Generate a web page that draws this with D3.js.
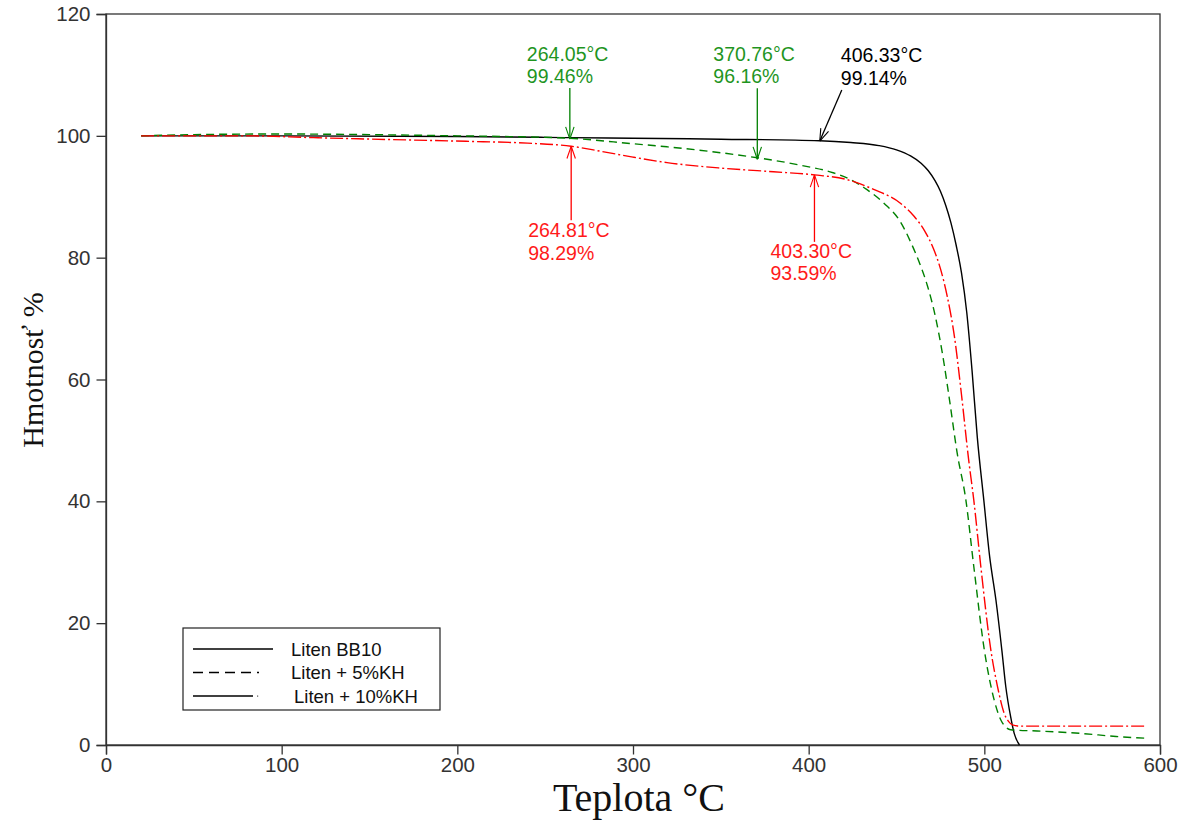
<!DOCTYPE html><html>
<head>
    <meta charset="utf-8">
    <script src="https://cdn.jsdelivr.net/npm/d3@7"></script>
    <style>
        body { margin: 0; background: #fff; }
        text { font-family: "Liberation Sans", Arial, sans-serif; }
    </style>
</head>
<body>
<script>
    // TGA curves: temperature (°C) and mass (%)
    var tBB10 = [20, 100, 200, 250, 264, 300, 350, 406.33, 424, 440, 450, 458, 464, 468, 472, 475, 478, 481, 484, 487, 490, 493, 496, 499.7, 503, 506.6, 510, 512.2, 515, 517, 520];
    var mBB10 = [100, 100, 99.9, 99.75, 99.7, 99.6, 99.45, 99.2, 98.9, 98.4, 97.7, 96.7, 95.5, 94.3, 92.6, 90.9, 88.6, 85.7, 82, 77.5, 71, 61.5, 50.5, 40.2, 31, 23.8, 15.5, 9.6, 4.6, 1.9, 0];

    var tKH5 = [20, 50, 100, 150, 200, 224.5, 264.05, 300, 319.4, 345, 370.76, 395, 414.4, 424, 433, 443, 452, 458, 463, 467.6, 472, 476, 480, 484.5, 489.5, 494, 500, 505.6, 509.4, 512, 515, 530, 555, 575, 593];
    var mKH5 = [100, 100.2, 100.3, 100.2, 100, 99.9, 99.6, 98.7, 98.2, 97.4, 96.4, 95.2, 93.9, 92.8, 91.2, 88.9, 86, 82.6, 79.2, 75.4, 70.5, 64.5, 57, 48, 40.2, 29.3, 15.6, 7.4, 4.1, 3, 2.5, 2.3, 1.9, 1.4, 1.1];

    var tKH10 = [20, 80, 118, 160, 205, 240, 264.81, 281, 300, 319.4, 350, 380, 403.3, 422, 437, 452.4, 460, 466, 471, 475, 479, 483, 487, 491, 494, 498, 503.7, 507.5, 511.3, 514, 516, 520, 560, 591];
    var mKH10 = [100, 100, 99.7, 99.4, 99.1, 98.8, 98.29, 97.5, 96.5, 95.6, 94.7, 94.1, 93.59, 92.8, 91.2, 88.9, 86.8, 84.4, 81.5, 78.2, 73.5, 67, 57.5, 47, 40.2, 29.3, 15.6, 9.6, 5.2, 3.8, 3.3, 3.1, 3.1, 3.1];

    var seriesNames = ["Liten BB10", "Liten + 5%KH", "Liten + 10%KH"];
    var xTicks = [0, 100, 200, 300, 400, 500, 600];
    var yTicks = [0, 20, 40, 60, 80, 100, 120];

    // marked points: temperature, mass, which series
    var markT = [264.05, 370.76, 406.33, 264.81, 403.30];
    var markM = [99.46, 96.16, 99.14, 98.29, 93.59];
    var markSeries = [1, 1, 0, 2, 2];

    var width = 1187, height = 820;
    var x0 = 106, x1 = 1160, y0 = 745, y1 = 14;

    var x = d3.scaleLinear().domain([0, 600]).range([x0, x1]);
    var y = d3.scaleLinear().domain([0, 120]).range([y0, y1]);

    var colors = ["#000000", "#008000", "#ff0000"];
    var textColors = ["#000000", "#1f951f", "#ff1a1a"];
    var dashes = [null, "8,5", "13,3,2,3"];

    var svg = d3.select("body").append("svg")
        .attr("width", width)
        .attr("height", height);

    // frame
    svg.append("rect")
        .attr("x", x0).attr("y", y1)
        .attr("width", x1 - x0).attr("height", y0 - y1)
        .attr("fill", "none").attr("stroke", "#333").attr("stroke-width", 1.3);

    // axes with minor ticks
    var xAxis = svg.append("g").attr("transform", "translate(0," + y0 + ")");
    xAxis.call(d3.axisBottom(x).tickValues(d3.range(0, 601, 25)).tickSize(6.5).tickFormat(""));
    xAxis.call(d3.axisBottom(x).tickValues(xTicks).tickSize(9.5).tickPadding(3).tickFormat(d3.format("d")));
    var yAxis = svg.append("g").attr("transform", "translate(" + x0 + ",0)");
    yAxis.call(d3.axisLeft(y).tickValues(d3.range(0, 121, 5)).tickSize(6.5).tickFormat(""));
    yAxis.call(d3.axisLeft(y).tickValues(yTicks).tickSize(9.5).tickPadding(6).tickFormat(d3.format("d")));

    svg.selectAll(".domain").attr("stroke", "#333").attr("stroke-width", 1.3);
    svg.selectAll(".tick line").attr("stroke", "#333").attr("stroke-width", 1.3);
    svg.selectAll(".tick text")
        .attr("fill", "#333")
        .style("font-size", "20.5px")
        .style("font-family", "'Liberation Sans', Arial, sans-serif");

    // curves
    var series = [
        d3.zip(tBB10, mBB10),
        d3.zip(tKH5, mKH5),
        d3.zip(tKH10, mKH10)
    ];
    var line = d3.line()
        .x(function(d) { return x(d[0]); })
        .y(function(d) { return y(d[1]); })
        .curve(d3.curveMonotoneX);

    series.forEach(function(s, i) {
        svg.append("path")
            .datum(s)
            .attr("d", line)
            .attr("fill", "none")
            .attr("stroke", colors[i])
            .attr("stroke-width", 1.4)
            .attr("stroke-dasharray", dashes[i]);
    });

    // annotations: arrow tail offset and text placement (px)
    var arrowTail = [[0, -51], [0, -71], [22, -51], [0, 74], [0, 67]];
    var labelPos = [[-43, -78, -56], [-44, -98, -76], [21, -79, -56], [-43, 91, 114], [-44, 83, 105]];

    function arrow(g, tx, ty, hx, hy, col) {
        g.append("line")
            .attr("x1", tx).attr("y1", ty).attr("x2", hx).attr("y2", hy)
            .attr("stroke", col).attr("stroke-width", 1.3);
        var ang = Math.atan2(ty - hy, tx - hx);
        [-0.33, 0.33].forEach(function(a) {
            g.append("line")
                .attr("x1", hx).attr("y1", hy)
                .attr("x2", hx + 13 * Math.cos(ang + a))
                .attr("y2", hy + 13 * Math.sin(ang + a))
                .attr("stroke", col).attr("stroke-width", 1.1);
        });
    }

    var ann = svg.append("g");
    markT.forEach(function(t, i) {
        var px = x(t), py = y(markM[i]);
        var s = markSeries[i];
        arrow(ann, px + arrowTail[i][0], py + arrowTail[i][1], px, py, colors[s]);
        var lp = labelPos[i];
        ann.append("text")
            .attr("x", px + lp[0]).attr("y", py + lp[1])
            .attr("fill", textColors[s])
            .style("font-size", "19.5px")
            .text(d3.format(".2f")(t) + "°C");
        ann.append("text")
            .attr("x", px + lp[0]).attr("y", py + lp[2])
            .attr("fill", textColors[s])
            .style("font-size", "19.5px")
            .text(d3.format(".2f")(markM[i]) + "%");
    });

    // legend (black sample lines)
    var lg = svg.append("g").attr("transform", "translate(183,628)");
    lg.append("rect")
        .attr("width", 257).attr("height", 82)
        .attr("fill", "#fff").attr("stroke", "#222").attr("stroke-width", 1.2);
    var legendLen = [80, 66, 60];
    var legendTextX = [108, 108, 111];
    seriesNames.forEach(function(name, i) {
        var ly = 21 + i * 23.5;
        lg.append("line")
            .attr("x1", 10).attr("x2", 10 + legendLen[i])
            .attr("y1", ly).attr("y2", ly)
            .attr("stroke", "#000").attr("stroke-width", 1.3)
            .attr("stroke-dasharray", i === 1 ? "10,6" : null);
        if (i === 2) {
            lg.append("rect")
                .attr("x", 74).attr("y", ly - 0.5)
                .attr("width", 1.2).attr("height", 1.2)
                .attr("fill", "#555");
        }
        lg.append("text")
            .attr("x", legendTextX[i]).attr("y", ly + 6.5)
            .attr("fill", "#111")
            .style("font-size", "18.5px")
            .text(name);
    });

    // axis titles
    svg.append("text")
        .attr("x", 639).attr("y", 811)
        .attr("text-anchor", "middle")
        .style("font-family", "'Liberation Serif', 'Times New Roman', serif")
        .style("font-size", "40px")
        .attr("fill", "#111")
        .text("Teplota °C");

    svg.append("text")
        .attr("transform", "translate(43,370) rotate(-90)")
        .attr("text-anchor", "middle")
        .style("font-family", "'Liberation Serif', 'Times New Roman', serif")
        .style("font-size", "30px")
        .attr("fill", "#111")
        .text("Hmotnosť %");
</script>
</body></html>
